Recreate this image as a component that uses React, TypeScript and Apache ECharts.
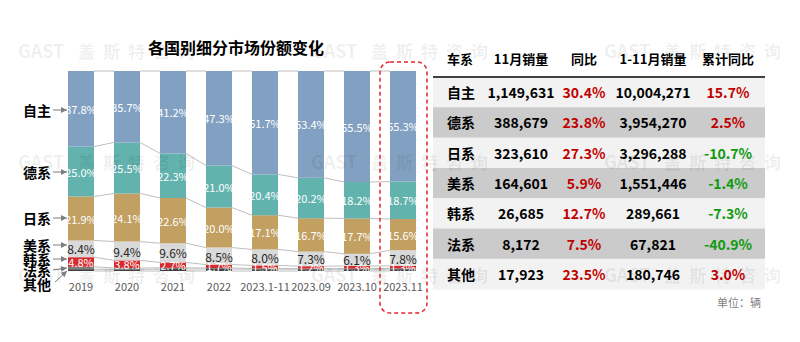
import React, { useEffect, useRef } from 'react';
import * as echarts from 'echarts';

// ---- chart data (share %, stacked bottom -> top: 其他, 法系, 韩系, 美系, 日系, 德系, 自主)
const categories = ['2019', '2020', '2021', '2022', '2023.1-11', '2023.09', '2023.10', '2023.11'];
const zizhu = [37.8, 35.7, 41.2, 47.3, 51.7, 53.4, 55.5, 55.3];
const dexi = [25.0, 25.5, 22.3, 21.0, 20.4, 20.2, 18.2, 18.7];
const rixi = [21.9, 24.1, 22.6, 20.0, 17.1, 16.7, 17.7, 15.6];
const meixi = [8.4, 9.4, 9.6, 8.5, 8.0, 7.3, 6.1, 7.8];
const hanxi = [4.8, 3.8, 2.7, 1.7, 1.5, 1.2, 1.3, 1.3];
const faxi = [1.2, 0.7, 0.6, 0.5, 0.4, 0.3, 0.3, 0.4];
const qita = [0.9, 0.8, 1.0, 1.0, 0.9, 0.9, 0.9, 0.9];

// ---- table data
const tableHeaders = ['车系', '11月销量', '同比', '1-11月销量', '累计同比'];
const tableBrands = ['自主', '德系', '日系', '美系', '韩系', '法系', '其他'];
const novSales = [1149631, 388679, 323610, 164601, 26685, 8172, 17923];
const novYoY = [30.4, 23.8, 27.3, 5.9, 12.7, 7.5, 23.5];
const ytdSales = [10004271, 3954270, 3296288, 1551446, 289661, 67821, 180746];
const ytdYoY = [15.7, 2.5, -10.7, -1.4, -7.3, -40.9, 3.0];
const unitText = '单位：辆';
const titleText = '各国别细分市场份额变化';
const watermarkLatin = 'GAST';
const watermarkCjk = ['盖', '斯', '特', '咨', '询'];

const FONT = '"Noto Sans CJK SC", "Noto Sans", sans-serif';

const stackOrder = [
  { name: '其他', data: qita, color: '#404040', label: null as any },
  { name: '法系', data: faxi, color: '#7f7f7f', label: null as any },
  { name: '韩系', data: hanxi, color: '#d62a2d', label: { color: '#fff', fontSize: 11 } },
  { name: '美系', data: meixi, color: '#d9d9d9', label: { color: '#262626', fontSize: 12 } },
  { name: '日系', data: rixi, color: '#c1a062', label: { color: '#fff', fontSize: 11 } },
  { name: '德系', data: dexi, color: '#62b2ae', label: { color: '#fff', fontSize: 11 } },
  { name: '自主', data: zizhu, color: '#82a0c2', label: { color: '#fff', fontSize: 11 } },
];

const BAR_W = 26;

function buildOption() {
  // cumulative boundaries for link lines
  const levels: number[][] = [];
  let cum = categories.map(() => 0);
  levels.push(cum.slice());
  stackOrder.forEach((s) => {
    cum = cum.map((c, i) => +(c + s.data[i]).toFixed(2));
    levels.push(cum.slice());
  });
  const linkData: number[][] = [];
  levels.forEach((lv) => {
    for (let i = 0; i < categories.length - 1; i++) linkData.push([i, lv[i], lv[i + 1]]);
  });

  const barSeries = stackOrder.map((s) => ({
    type: 'bar',
    name: s.name,
    stack: 'share',
    barWidth: BAR_W,
    data: s.data,
    itemStyle: { color: s.color },
    z: 3,
    label: s.label
      ? {
          show: true,
          position: 'inside',
          color: s.label.color,
          fontSize: s.label.fontSize,
          fontFamily: FONT,
          formatter: (p: any) => p.value.toFixed(1) + '%',
        }
      : { show: false },
  }));

  const linkSeries = {
    type: 'custom',
    data: linkData,
    z: 1,
    silent: true,
    encode: { x: 0, y: 1 },
    renderItem: (params: any, api: any) => {
      const idx = api.value(0);
      const p1 = api.coord([idx, api.value(1)]);
      const p2 = api.coord([idx + 1, api.value(2)]);
      return {
        type: 'line',
        shape: { x1: p1[0] + BAR_W / 2, y1: p1[1], x2: p2[0] - BAR_W / 2, y2: p2[1] },
        style: { stroke: '#bfbfbf', lineWidth: 1 },
      };
    },
  };

  const graphics: any[] = [];

  // title
  graphics.push({
    type: 'text',
    style: {
      x: 236, y: 47, text: titleText, fill: '#000', font: `bold 16px ${FONT}`,
      textAlign: 'center', textVerticalAlign: 'middle',
    },
  });

  // left annotation labels with arrows
  const ann = [
    { t: '自主', y: 110, ty: 110 },
    { t: '德系', y: 172, ty: 172 },
    { t: '日系', y: 218, ty: 218 },
    { t: '美系', y: 245, ty: 245 },
    { t: '韩系', y: 259, ty: 259 },
    { t: '法系', y: 270, ty: 268 },
    { t: '其他', y: 284, ty: 271, diag: true },
  ];
  ann.forEach((a) => {
    graphics.push({
      type: 'text',
      style: {
        x: 51, y: a.y, text: a.t, fill: '#000', font: `bold 14px ${FONT}`,
        textAlign: 'right', textVerticalAlign: 'middle',
      },
    });
    const x1 = a.diag ? 55 : 53;
    const y1 = a.diag ? 282 : a.y;
    const x2 = 67;
    const y2 = a.ty;
    graphics.push({
      type: 'line',
      shape: { x1, y1, x2, y2 },
      style: { stroke: '#7f7f7f', lineWidth: 1 },
    });
    const dx = x2 - x1, dy = y2 - y1;
    const len = Math.sqrt(dx * dx + dy * dy);
    const ux = dx / len, uy = dy / len;
    const bx = x2 - ux * 6, by = y2 - uy * 6;
    graphics.push({
      type: 'polygon',
      shape: { points: [[x2, y2], [bx - uy * 3, by + ux * 3], [bx + uy * 3, by - ux * 3]] },
      style: { fill: '#7f7f7f' },
    });
  });

  // red dashed highlight box
  graphics.push({
    type: 'rect',
    shape: { x: 380, y: 62, width: 47, height: 251, r: 10 },
    style: { fill: 'none', stroke: '#e3262b', lineWidth: 1.5, lineDash: [4, 3] },
    z: 10,
  });

  // table
  const tX = 433, tW = 332, headerY = 58, rowTop = 77, rowH = 30.3;
  const colX = [447, 521, 584, 653, 728];
  tableBrands.forEach((_, i) => {
    graphics.push({
      type: 'rect',
      shape: { x: tX, y: rowTop + i * rowH, width: tW, height: rowH + 0.3 },
      style: { fill: i % 2 === 0 ? '#f2f2f2' : '#cbcbcb' },
    });
  });
  graphics.push({
    type: 'line',
    shape: { x1: tX, y1: rowTop, x2: tX + tW, y2: rowTop },
    style: { stroke: '#404040', lineWidth: 2 },
  });
  tableHeaders.forEach((h, c) => {
    graphics.push({
      type: 'text',
      style: {
        x: colX[c], y: headerY, text: h, fill: '#000', font: `bold 13px ${FONT}`,
        textAlign: c === 0 ? 'left' : 'center', textVerticalAlign: 'middle',
      },
    });
  });
  const pctColor = (v: number) => (v >= 0 ? '#c00000' : '#0f9a0f');
  tableBrands.forEach((b, i) => {
    const cy = rowTop + i * rowH + rowH / 2;
    const cells = [
      { t: b, c: '#000' },
      { t: novSales[i].toLocaleString('en-US'), c: '#000' },
      { t: novYoY[i].toFixed(1) + '%', c: pctColor(novYoY[i]) },
      { t: ytdSales[i].toLocaleString('en-US'), c: '#000' },
      { t: ytdYoY[i].toFixed(1) + '%', c: pctColor(ytdYoY[i]) },
    ];
    cells.forEach((cell, c) => {
      graphics.push({
        type: 'text',
        style: {
          x: colX[c], y: cy, text: cell.t, fill: cell.c, font: `bold 14px ${FONT}`,
          textAlign: c === 0 ? 'left' : 'center', textVerticalAlign: 'middle',
        },
      });
    });
  });
  graphics.push({
    type: 'text',
    style: {
      x: 761, y: 302, text: unitText, fill: '#7f7f7f', font: `11px ${FONT}`,
      textAlign: 'right', textVerticalAlign: 'middle',
    },
  });

  // watermarks
  const wmX = [18, 311, 604];
  const wmY = [50, 161, 274];
  wmY.forEach((y) => {
    wmX.forEach((x) => {
      graphics.push({
        type: 'text', z: 100, silent: true,
        style: {
          x, y, text: watermarkLatin, fill: 'rgba(0,0,0,0.075)', font: `bold 18px ${FONT}`,
          textAlign: 'left', textVerticalAlign: 'middle',
        },
      });
      watermarkCjk.forEach((ch, k) => {
        graphics.push({
          type: 'text', z: 100, silent: true,
          style: {
            x: x + 60 + k * 25, y, text: ch, fill: 'rgba(0,0,0,0.075)', font: `bold 17px ${FONT}`,
            textAlign: 'left', textVerticalAlign: 'middle',
          },
        });
      });
    });
  });

  return {
    animation: false,
    backgroundColor: '#ffffff',
    textStyle: { fontFamily: FONT },
    grid: { left: 58, right: 374, top: 71, bottom: 71, containLabel: false },
    xAxis: {
      type: 'category',
      data: categories,
      axisLine: { show: false },
      axisTick: { show: false },
      axisLabel: { color: '#595959', fontSize: 11, margin: 9, fontFamily: FONT, interval: 0 },
    },
    yAxis: { type: 'value', min: 0, max: 100, show: false },
    series: [linkSeries, ...barSeries],
    graphic: { elements: graphics },
  };
}

export default function App() {
  const ref = useRef<HTMLDivElement>(null);
  useEffect(() => {
    if (!ref.current) return;
    const chart = echarts.init(ref.current, null, { renderer: 'svg' });
    chart.setOption(buildOption() as any);
    return () => chart.dispose();
  }, []);
  return (
    <div
      ref={ref}
      style={{ position: 'fixed', left: 0, top: 0, width: 800, height: 342, background: '#fff' }}
    />
  );
}
